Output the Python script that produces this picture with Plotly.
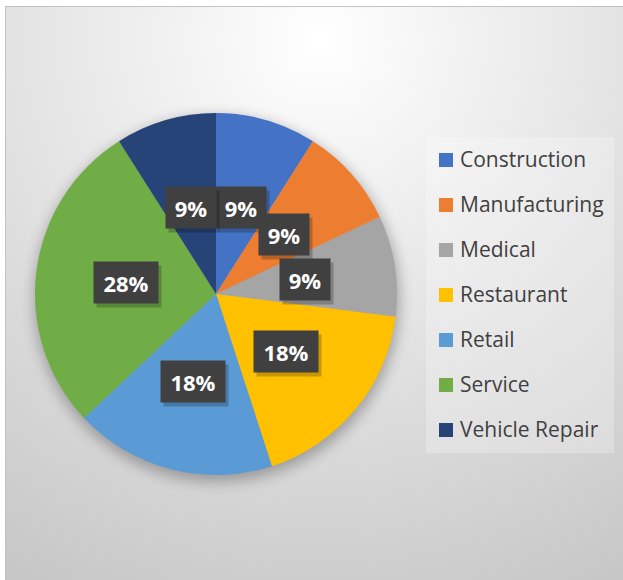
import base64
import math
import plotly.graph_objects as go

# ---- data ----
categories = ["Construction", "Manufacturing", "Medical", "Restaurant",
              "Retail", "Service", "Vehicle Repair"]
values = [9, 9, 9, 18, 18, 28, 9]
colors = ["#4472C4", "#ED7D31", "#A5A5A5", "#FFC000",
          "#5B9BD5", "#70AD47", "#264478"]

# ---- geometry ----
W, H = 623, 580
CX, CY, R = 216, 294, 181          # pie centre / radius in px
dom_x = [(CX - R) / W, (CX + R) / W]
dom_y = [1 - (CY + R) / H, 1 - (CY - R) / H]

# ---- background (gradient chart area + soft pie shadow) as SVG ----
svg = f'''<svg xmlns="http://www.w3.org/2000/svg" width="{W}" height="{H}" viewBox="0 0 {W} {H}">
<defs>
<radialGradient id="g" gradientUnits="userSpaceOnUse" cx="320" cy="40" r="640">
<stop offset="0" stop-color="#ffffff"/><stop offset="1" stop-color="#c4c4c4"/>
</radialGradient>
<filter id="b" x="-30%" y="-30%" width="160%" height="160%"><feGaussianBlur stdDeviation="7"/></filter>
</defs>
<rect x="0" y="0" width="{W}" height="{H}" fill="#ffffff"/>
<rect x="5.5" y="6.5" width="{W+10}" height="{H+10}" fill="url(#g)" stroke="#c3c3c3" stroke-width="1"/>
<circle cx="{CX+1}" cy="{CY+5}" r="{R+2}" fill="#000" opacity="0.28" filter="url(#b)"/>
</svg>'''
bg_src = "data:image/svg+xml;base64," + base64.b64encode(svg.encode()).decode()

fig = go.Figure(go.Pie(
    labels=categories, values=values,
    marker=dict(colors=colors, line=dict(width=0)),
    sort=False, direction="clockwise", rotation=0,
    textinfo="none", hoverinfo="label+percent",
    domain=dict(x=dom_x, y=dom_y), showlegend=False,
))

# ---- percentage labels at half radius ----
total = sum(values)
annotations = []
cum = 0
for v in values:
    theta = 2 * math.pi * (cum + v / 2) / total
    cum += v
    px = CX + 0.5 * R * math.sin(theta)
    py = CY - 0.5 * R * math.cos(theta)
    txt = f"{round(100 * v / total)}%"
    w = 14 * len(txt) + 14
    common = dict(x=px / W, y=1 - py / H, xref="paper", yref="paper",
                  showarrow=False, width=w, height=33, borderpad=4,
                  xanchor="center", yanchor="middle")
    annotations.append(dict(**common, text=" ", bgcolor="rgba(0,0,0,0.22)",
                            font=dict(size=21, family="Open Sans"),
                            xshift=3, yshift=-4))
    annotations.append(dict(**common, text=txt, bgcolor="#404040",
                            font=dict(color="white", size=22,
                                      family="Open Sans", weight="bold")))

# ---- legend (manual) ----
shapes = [dict(type="rect", xref="paper", yref="paper",
               x0=426 / W, x1=614 / W, y0=1 - 453 / H, y1=1 - 137 / H,
               fillcolor="rgba(255,255,255,0.25)", line=dict(width=0),
               layer="below")]
for i, (c, col) in enumerate(zip(categories, colors)):
    yc = 160 + 45 * i
    shapes.append(dict(type="rect", xref="paper", yref="paper",
                       x0=439 / W, x1=453 / W,
                       y0=1 - (yc + 7) / H, y1=1 - (yc - 7) / H,
                       fillcolor=col, line=dict(width=0)))
    annotations.append(dict(x=458 / W, y=1 - (yc - 1) / H, xref="paper",
                            yref="paper", text=c, showarrow=False,
                            xanchor="left", yanchor="middle",
                            font=dict(size=21, color="#404040",
                                      family="Open Sans")))

fig.update_layout(
    width=W, height=H, margin=dict(l=0, r=0, t=0, b=0),
    paper_bgcolor="white",
    images=[dict(source=bg_src, xref="paper", yref="paper", x=0, y=1,
                 sizex=1, sizey=1, xanchor="left", yanchor="top",
                 sizing="stretch", layer="below")],
    annotations=annotations, shapes=shapes,
)
fig.write_html("out.html", config={"displayModeBar": False},
               post_script="document.body.style.margin='0';"
                           "document.body.style.overflow='hidden';")
